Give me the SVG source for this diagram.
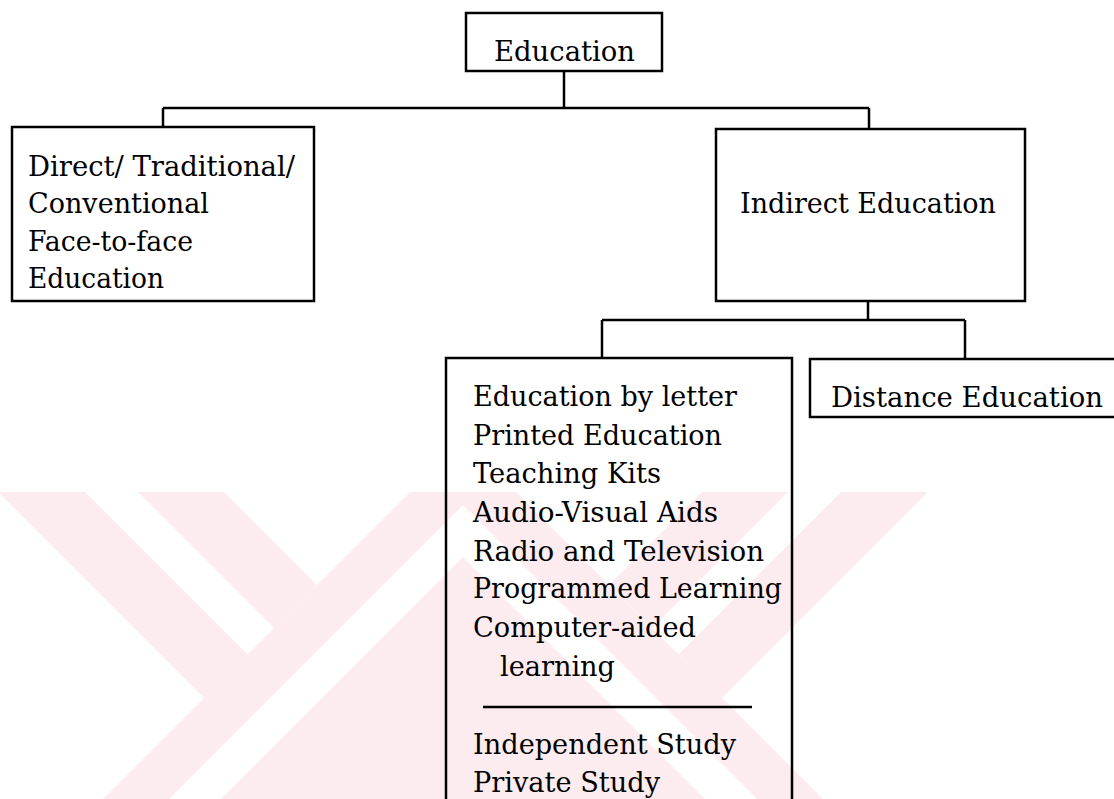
<svg xmlns="http://www.w3.org/2000/svg" width="1114" height="799" viewBox="0 0 1114 799">
<style>
.wm{fill:#fdecef;stroke:none}
.box{fill:none;stroke:#000;stroke-width:2.5}
.con{fill:none;stroke:#000;stroke-width:2.5}
.t{font-family:"DejaVu Serif","Liberation Serif",serif;font-size:28px;fill:#000}
</style>
<rect width="1114" height="799" fill="#fff"/>
<g id="watermark">
<polygon class="wm" points="0,492 85,492 247.5,654.5 204.5,698.5 0,494"/>
<polygon class="wm" points="138,492 224,492 317,585 274,628"/>
<polygon class="wm" points="410,492 516,492 823,799 757,799 463,505 169,799 103,799"/>
<polygon class="wm" points="221,799 463,557 705,799"/>
<polygon class="wm" points="702,492 788,492 652,628 609,585"/>
<polygon class="wm" points="841,492 926,492 926,494 721.5,698.5 678.5,654.5"/>
</g>
<g id="connectors">
<path class="con" d="M564,71V108M163,108H869M163,108V127M869,108V129"/>
<path class="con" d="M868,301V320M602,320H965M602,320V358M965,320V359"/>
</g>
<g id="education">
<rect class="box" x="466" y="13" width="196" height="58"/>
<text class="t" x="494" y="61" textLength="141" lengthAdjust="spacingAndGlyphs">Education</text>
</g>
<g id="direct">
<rect class="box" x="12" y="127" width="302" height="174"/>
<text class="t" x="28" y="176" textLength="267" lengthAdjust="spacingAndGlyphs">Direct/ Traditional/</text>
<text class="t" x="28" y="213" textLength="181" lengthAdjust="spacingAndGlyphs">Conventional</text>
<text class="t" x="28" y="251" textLength="165" lengthAdjust="spacingAndGlyphs">Face-to-face</text>
<text class="t" x="28" y="288" textLength="136" lengthAdjust="spacingAndGlyphs">Education</text>
</g>
<g id="indirect">
<rect class="box" x="716" y="129" width="309" height="172"/>
<text class="t" x="740" y="213" textLength="256" lengthAdjust="spacingAndGlyphs">Indirect Education</text>
</g>
<g id="methods">
<rect class="box" x="446" y="358" width="346" height="460"/>
<text class="t" x="473" y="406" textLength="264" lengthAdjust="spacingAndGlyphs">Education by letter</text>
<text class="t" x="473" y="445" textLength="249" lengthAdjust="spacingAndGlyphs">Printed Education</text>
<text class="t" x="473" y="483" textLength="188" lengthAdjust="spacingAndGlyphs">Teaching Kits</text>
<text class="t" x="473" y="522" textLength="245" lengthAdjust="spacingAndGlyphs">Audio-Visual Aids</text>
<text class="t" x="473" y="561" textLength="291" lengthAdjust="spacingAndGlyphs">Radio and Television</text>
<text class="t" x="473" y="598" textLength="309" lengthAdjust="spacingAndGlyphs">Programmed Learning</text>
<text class="t" x="473" y="637" textLength="223" lengthAdjust="spacingAndGlyphs">Computer-aided</text>
<text class="t" x="500" y="676" textLength="115" lengthAdjust="spacingAndGlyphs">learning</text>
<line class="con" x1="483" y1="707" x2="752" y2="707"/>
<text class="t" x="473" y="754" textLength="263" lengthAdjust="spacingAndGlyphs">Independent Study</text>
<text class="t" x="473" y="792" textLength="187" lengthAdjust="spacingAndGlyphs">Private Study</text>
</g>
<g id="distance">
<rect class="box" x="810" y="359" width="320" height="58"/>
<text class="t" x="831" y="407" textLength="272" lengthAdjust="spacingAndGlyphs">Distance Education</text>
</g>
</svg>
